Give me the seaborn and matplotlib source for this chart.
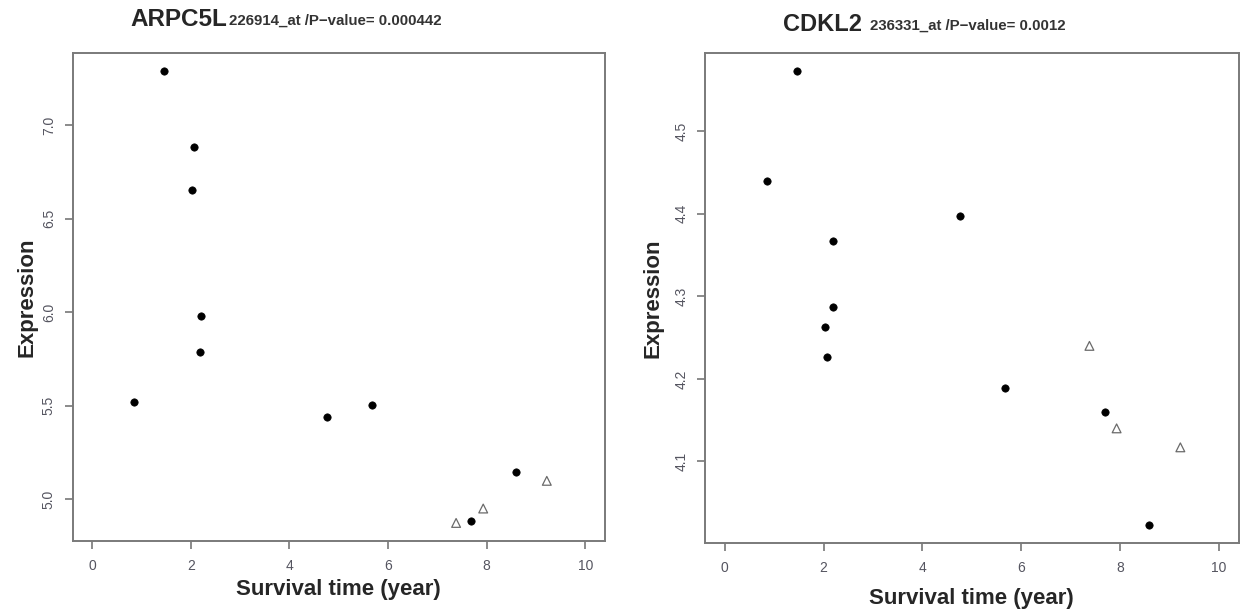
import numpy as np
import pandas as pd
import matplotlib
matplotlib.use('Agg')
import matplotlib.pyplot as plt
import seaborn as sns

# =====================
# DATA
# =====================
# survival time (years), dead patients = filled dots, censored = open triangles
time_dead = [0.85, 1.46, 2.02, 2.07, 2.18, 2.20, 4.76, 5.68, 7.69, 8.59]
time_cens = [7.38, 7.93, 9.22]

arpc5l_dead = [5.518, 7.288, 6.655, 6.884, 5.787, 5.980, 5.438, 5.502, 4.886, 5.147]
arpc5l_cens = [4.873, 4.950, 5.098]

cdkl2_dead = [4.440, 4.573, 4.263, 4.227, 4.287, 4.367, 4.398, 4.189, 4.160, 4.023]
cdkl2_cens = [4.240, 4.140, 4.117]

genes = ['ARPC5L', 'CDKL2']
probes = ['226914_at /P\u2212value= 0.000442', '236331_at /P\u2212value= 0.0012']
yticks = [[5.0, 5.5, 6.0, 6.5, 7.0], [4.1, 4.2, 4.3, 4.4, 4.5]]
xticks = [0, 2, 4, 6, 8, 10]

sns.set_style('white')
plt.rcParams['font.family'] = ['Liberation Sans', 'DejaVu Sans']

fig = plt.figure(figsize=(12.43, 6.12), dpi=100)
axes = [fig.add_axes([0.0584, 0.116, 0.4283, 0.7974]),
        fig.add_axes([0.5672, 0.1127, 0.4293, 0.8007])]

dead_vals = [arpc5l_dead, cdkl2_dead]
cens_vals = [arpc5l_cens, cdkl2_cens]
ylab_pad = [3, 8]
xlab_pad = [4, 9]

for i, ax in enumerate(axes):
    dead = pd.DataFrame({'time': time_dead, 'expr': dead_vals[i]})
    cens = pd.DataFrame({'time': time_cens, 'expr': cens_vals[i]})
    sns.scatterplot(data=dead, x='time', y='expr', ax=ax, color='black',
                    marker='o', s=28, edgecolor='black', linewidth=0.5)
    sns.scatterplot(data=cens, x='time', y='expr', ax=ax, marker='^', s=40,
                    facecolor='none', edgecolor='#6a6a6a', linewidth=0.9)

    # R-style 4% padding
    allv = dead_vals[i] + cens_vals[i]
    pad = (max(allv) - min(allv)) * 0.04
    ax.set_ylim(min(allv) - pad, max(allv) + pad)
    ax.set_xlim(-0.4, 10.4)

    ax.set_xticks(xticks)
    ax.set_yticks(yticks[i])
    ax.set_yticklabels([f'{v:.1f}' for v in yticks[i]])
    ax.tick_params(axis='both', direction='out', length=6, width=1.2,
                   color='#777777', labelcolor='#555560', labelsize=10, pad=7,
                   bottom=True, left=True)
    ax.tick_params(axis='y', labelrotation=90, pad=6)
    for lab in ax.get_yticklabels():
        lab.set_va('center')
    for sp in ax.spines.values():
        sp.set_color('#7a7a7a')
        sp.set_linewidth(1.4)

    ax.set_xlabel('Survival time (year)', fontsize=16, fontweight='bold',
                  labelpad=xlab_pad[i])
    ax.set_ylabel('Expression', fontsize=16, fontweight='bold',
                  labelpad=ylab_pad[i])

# titles: gene name big, probe / p-value small
fig.text(0.1046, 0.968, genes[0], fontsize=17.5, fontweight='bold', va='center')
fig.text(0.1842, 0.966, probes[0], fontsize=10.8, fontweight='bold', color='#333333', va='center')
fig.text(0.630, 0.960, genes[1], fontsize=17, fontweight='bold', va='center')
fig.text(0.700, 0.958, probes[1], fontsize=10.8, fontweight='bold', color='#333333', va='center')

plt.savefig('out.png', dpi=100)
